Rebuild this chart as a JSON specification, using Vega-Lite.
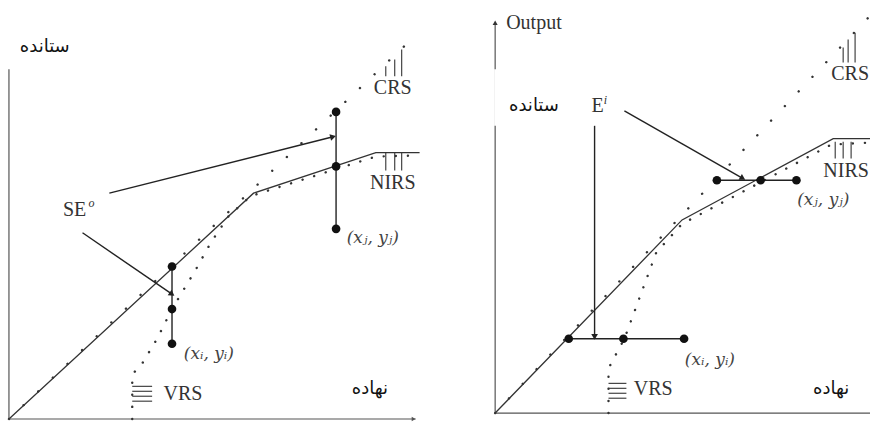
{
  "$schema": "https://vega.github.io/schema/vega-lite/v6.json",
  "width": 875,
  "height": 424,
  "autosize": {"type": "fit", "contains": "padding"},
  "padding": 0,
  "background": "white",
  "config": {"view": {"stroke": null}},
  "datasets": {
    "curves": [
      {"panel": "L", "frontier": "NIRS", "seq": 1, "x": 9, "y": 1},
      {"panel": "L", "frontier": "NIRS", "seq": 2, "x": 255, "y": 229},
      {"panel": "L", "frontier": "NIRS", "seq": 3, "x": 378, "y": 270},
      {"panel": "L", "frontier": "NIRS", "seq": 4, "x": 422, "y": 270},
      {"panel": "L", "frontier": "CRS", "seq": 1, "x": 9, "y": 1},
      {"panel": "L", "frontier": "CRS", "seq": 2, "x": 420, "y": 390},
      {"panel": "L", "frontier": "VRS", "seq": 1, "x": 133, "y": 1},
      {"panel": "L", "frontier": "VRS", "seq": 2, "x": 133, "y": 46},
      {"panel": "L", "frontier": "VRS", "seq": 3, "x": 143, "y": 57},
      {"panel": "L", "frontier": "VRS", "seq": 4, "x": 158, "y": 82},
      {"panel": "L", "frontier": "VRS", "seq": 5, "x": 173, "y": 112},
      {"panel": "L", "frontier": "VRS", "seq": 6, "x": 197, "y": 152},
      {"panel": "L", "frontier": "VRS", "seq": 7, "x": 212, "y": 179},
      {"panel": "L", "frontier": "VRS", "seq": 8, "x": 230, "y": 206},
      {"panel": "L", "frontier": "VRS", "seq": 9, "x": 252, "y": 226},
      {"panel": "L", "frontier": "VRS", "seq": 10, "x": 378, "y": 266},
      {"panel": "L", "frontier": "VRS", "seq": 11, "x": 422, "y": 267},
      {"panel": "R", "frontier": "NIRS", "seq": 1, "x": 498, "y": 7},
      {"panel": "R", "frontier": "NIRS", "seq": 2, "x": 686, "y": 202},
      {"panel": "R", "frontier": "NIRS", "seq": 3, "x": 838, "y": 284},
      {"panel": "R", "frontier": "NIRS", "seq": 4, "x": 875, "y": 284},
      {"panel": "R", "frontier": "CRS", "seq": 1, "x": 498, "y": 7},
      {"panel": "R", "frontier": "CRS", "seq": 2, "x": 875, "y": 408},
      {"panel": "R", "frontier": "VRS", "seq": 1, "x": 612, "y": 7},
      {"panel": "R", "frontier": "VRS", "seq": 2, "x": 612, "y": 52},
      {"panel": "R", "frontier": "VRS", "seq": 3, "x": 622, "y": 71},
      {"panel": "R", "frontier": "VRS", "seq": 4, "x": 628, "y": 82},
      {"panel": "R", "frontier": "VRS", "seq": 5, "x": 660, "y": 169},
      {"panel": "R", "frontier": "VRS", "seq": 6, "x": 686, "y": 198},
      {"panel": "R", "frontier": "VRS", "seq": 7, "x": 765, "y": 240},
      {"panel": "R", "frontier": "VRS", "seq": 8, "x": 836, "y": 278},
      {"panel": "R", "frontier": "VRS", "seq": 9, "x": 875, "y": 280}
    ],
    "segs": [
      {"kind": "axis", "x": 9, "y": 1, "x2": 9, "y2": 354},
      {"kind": "axis", "x": 9, "y": 1, "x2": 418, "y2": 1},
      {"kind": "axis", "x": 498, "y": 7, "x2": 498, "y2": 399},
      {"kind": "axis", "x": 498, "y": 7, "x2": 875, "y2": 7},
      {"kind": "link", "x": 338, "y": 193, "x2": 338, "y2": 311},
      {"kind": "link", "x": 173, "y": 77, "x2": 173, "y2": 155},
      {"kind": "link", "x": 572, "y": 82, "x2": 688, "y2": 82},
      {"kind": "link", "x": 721, "y": 242, "x2": 801, "y2": 242},
      {"kind": "arrow", "x": 110, "y": 229, "x2": 335, "y2": 286},
      {"kind": "arrow", "x": 83, "y": 189, "x2": 173, "y2": 127},
      {"kind": "arrow", "x": 598, "y": 297, "x2": 598, "y2": 84},
      {"kind": "arrow", "x": 628, "y": 312, "x2": 747, "y2": 244},
      {"kind": "glyph", "x": 388, "y": 347, "x2": 388, "y2": 357},
      {"kind": "glyph", "x": 397, "y": 347, "x2": 397, "y2": 364},
      {"kind": "glyph", "x": 404, "y": 347, "x2": 404, "y2": 374},
      {"kind": "glyph", "x": 388, "y": 252, "x2": 388, "y2": 270},
      {"kind": "glyph", "x": 397, "y": 252, "x2": 397, "y2": 270},
      {"kind": "glyph", "x": 404, "y": 252, "x2": 404, "y2": 270},
      {"kind": "glyph", "x": 133, "y": 34, "x2": 153, "y2": 34},
      {"kind": "glyph", "x": 133, "y": 29, "x2": 153, "y2": 29},
      {"kind": "glyph", "x": 133, "y": 24, "x2": 153, "y2": 24},
      {"kind": "glyph", "x": 133, "y": 19, "x2": 153, "y2": 19},
      {"kind": "glyph", "x": 612, "y": 37, "x2": 630, "y2": 37},
      {"kind": "glyph", "x": 612, "y": 32, "x2": 630, "y2": 32},
      {"kind": "glyph", "x": 612, "y": 27, "x2": 630, "y2": 27},
      {"kind": "glyph", "x": 612, "y": 22, "x2": 630, "y2": 22},
      {"kind": "glyph", "x": 848, "y": 361, "x2": 848, "y2": 376},
      {"kind": "glyph", "x": 853, "y": 361, "x2": 853, "y2": 384},
      {"kind": "glyph", "x": 860, "y": 361, "x2": 860, "y2": 391},
      {"kind": "glyph", "x": 840, "y": 264, "x2": 840, "y2": 281},
      {"kind": "glyph", "x": 848, "y": 264, "x2": 848, "y2": 281},
      {"kind": "glyph", "x": 856, "y": 264, "x2": 856, "y2": 281}
    ],
    "heads": [
      {"id": "A1", "x": 335, "y": 286},
      {"id": "A2", "x": 173, "y": 127},
      {"id": "A3", "x": 598, "y": 84},
      {"id": "A4", "x": 747, "y": 244},
      {"id": "OUT", "x": 498, "y": 401},
      {"id": "XL", "x": 416, "y": 1}
    ],
    "units": [
      {"unit": "i", "panel": "L", "x": 173, "y": 155},
      {"unit": "i", "panel": "L", "x": 173, "y": 112},
      {"unit": "i", "panel": "L", "x": 173, "y": 77},
      {"unit": "j", "panel": "L", "x": 338, "y": 311},
      {"unit": "j", "panel": "L", "x": 338, "y": 256},
      {"unit": "j", "panel": "L", "x": 338, "y": 193},
      {"unit": "i", "panel": "R", "x": 572, "y": 82},
      {"unit": "i", "panel": "R", "x": 627, "y": 82},
      {"unit": "i", "panel": "R", "x": 688, "y": 82},
      {"unit": "j", "panel": "R", "x": 721, "y": 242},
      {"unit": "j", "panel": "R", "x": 765, "y": 242},
      {"unit": "j", "panel": "R", "x": 801, "y": 242}
    ],
    "labels": [
      {"role": "fa", "text": "ستانده", "x": 45, "y": 377},
      {"role": "fa", "text": "نهاده", "x": 372, "y": 31},
      {"role": "fa", "text": "ستانده", "x": 537, "y": 317},
      {"role": "fa", "text": "نهاده", "x": 836, "y": 31},
      {"role": "roman", "text": "CRS", "x": 395, "y": 335},
      {"role": "roman", "text": "NIRS", "x": 395, "y": 239},
      {"role": "roman", "text": "VRS", "x": 184, "y": 26},
      {"role": "roman", "text": "SE", "x": 75, "y": 212},
      {"role": "roman", "text": "Output", "x": 537, "y": 401},
      {"role": "roman", "text": "CRS", "x": 855, "y": 349},
      {"role": "roman", "text": "NIRS", "x": 851, "y": 251},
      {"role": "roman", "text": "VRS", "x": 657, "y": 31},
      {"role": "roman", "text": "E", "x": 601, "y": 317},
      {"role": "sup", "text": "o", "x": 92, "y": 219},
      {"role": "sup", "text": "i", "x": 609, "y": 323},
      {"role": "math", "text": "(xⱼ, yⱼ)", "x": 375, "y": 184},
      {"role": "math", "text": "(xᵢ, yᵢ)", "x": 210, "y": 67},
      {"role": "math", "text": "(xᵢ, yᵢ)", "x": 714, "y": 61},
      {"role": "math", "text": "(xⱼ, yⱼ)", "x": 828, "y": 222}
    ]
  },
  "encoding": {
    "x": {"field": "x", "type": "quantitative", "scale": {"domain": [0, 875], "nice": false, "zero": false}, "axis": null},
    "y": {"field": "y", "type": "quantitative", "scale": {"domain": [0, 424], "nice": false, "zero": false}, "axis": null}
  },
  "layer": [
    {
      "data": {"name": "segs"},
      "transform": [{"filter": "datum.kind === 'axis'"}],
      "mark": {"type": "rule", "color": "#555", "strokeWidth": 1.2},
      "encoding": {"x2": {"field": "x2"}, "y2": {"field": "y2"}}
    },
    {
      "data": {"name": "curves"},
      "transform": [{"filter": "datum.frontier === 'CRS'"}],
      "mark": {"type": "line", "color": "#333", "strokeWidth": 2.4, "strokeCap": "round", "strokeDash": [0.1, 20]},
      "encoding": {"detail": {"field": "panel"}, "order": {"field": "seq", "type": "quantitative"}}
    },
    {
      "data": {"name": "curves"},
      "transform": [{"filter": "datum.frontier === 'VRS'"}],
      "mark": {"type": "line", "color": "#333", "strokeWidth": 2.4, "strokeCap": "round", "strokeDash": [0.1, 12]},
      "encoding": {"detail": {"field": "panel"}, "order": {"field": "seq", "type": "quantitative"}}
    },
    {
      "data": {"name": "curves"},
      "transform": [{"filter": "datum.frontier === 'NIRS'"}],
      "mark": {"type": "line", "color": "#333", "strokeWidth": 1.3},
      "encoding": {"detail": {"field": "panel"}, "order": {"field": "seq", "type": "quantitative"}}
    },
    {
      "data": {"name": "segs"},
      "transform": [{"filter": "datum.kind === 'link' || datum.kind === 'arrow'"}],
      "mark": {"type": "rule", "color": "#222", "strokeWidth": 1.4},
      "encoding": {"x2": {"field": "x2"}, "y2": {"field": "y2"}}
    },
    {
      "data": {"name": "segs"},
      "transform": [{"filter": "datum.kind === 'glyph'"}],
      "mark": {"type": "rule", "color": "#333", "strokeWidth": 1.1},
      "encoding": {"x2": {"field": "x2"}, "y2": {"field": "y2"}}
    },
    {
      "data": {"name": "heads"},
      "transform": [{"filter": "datum.id === 'A1'"}],
      "mark": {"type": "point", "shape": "triangle-right", "filled": true, "color": "#222", "size": 45, "angle": -14, "opacity": 1}
    },
    {
      "data": {"name": "heads"},
      "transform": [{"filter": "datum.id === 'A2'"}],
      "mark": {"type": "point", "shape": "triangle-right", "filled": true, "color": "#222", "size": 45, "angle": 35, "opacity": 1}
    },
    {
      "data": {"name": "heads"},
      "transform": [{"filter": "datum.id === 'A3'"}],
      "mark": {"type": "point", "shape": "triangle-right", "filled": true, "color": "#222", "size": 45, "angle": 90, "opacity": 1}
    },
    {
      "data": {"name": "heads"},
      "transform": [{"filter": "datum.id === 'A4'"}],
      "mark": {"type": "point", "shape": "triangle-right", "filled": true, "color": "#222", "size": 45, "angle": 30, "opacity": 1}
    },
    {
      "data": {"name": "heads"},
      "transform": [{"filter": "datum.id === 'OUT'"}],
      "mark": {"type": "point", "shape": "triangle-up", "filled": true, "color": "#333", "size": 25, "opacity": 1}
    },
    {
      "data": {"name": "heads"},
      "transform": [{"filter": "datum.id === 'XL'"}],
      "mark": {"type": "point", "shape": "triangle-right", "filled": true, "color": "#555", "size": 20, "opacity": 1}
    },
    {
      "data": {"name": "units"},
      "mark": {"type": "point", "shape": "circle", "filled": true, "color": "#111", "size": 75, "opacity": 1}
    },
    {
      "data": {"values": [{"x": 497, "y": 354, "x2": 591, "y2": 297}]},
      "mark": {"type": "rect", "color": "white"},
      "encoding": {"x2": {"field": "x2"}, "y2": {"field": "y2"}}
    },
    {
      "data": {"name": "labels"},
      "transform": [{"filter": "datum.role === 'fa'"}],
      "mark": {"type": "text", "font": "DejaVu Sans", "fontSize": 18, "color": "#111", "baseline": "middle", "align": "center"},
      "encoding": {"text": {"field": "text"}}
    },
    {
      "data": {"name": "labels"},
      "transform": [{"filter": "datum.role === 'roman'"}],
      "mark": {"type": "text", "font": "Liberation Serif", "fontSize": 20, "color": "#333", "baseline": "middle", "align": "center", "clip": true},
      "encoding": {"text": {"field": "text"}}
    },
    {
      "data": {"name": "labels"},
      "transform": [{"filter": "datum.role === 'sup'"}],
      "mark": {"type": "text", "font": "Liberation Serif", "fontStyle": "italic", "fontSize": 12, "color": "#333", "baseline": "middle", "align": "center"},
      "encoding": {"text": {"field": "text"}}
    },
    {
      "data": {"name": "labels"},
      "transform": [{"filter": "datum.role === 'math'"}],
      "mark": {"type": "text", "font": "DejaVu Serif", "fontStyle": "italic", "fontSize": 17, "color": "#444", "baseline": "middle", "align": "center", "clip": true},
      "encoding": {"text": {"field": "text"}}
    }
  ]
}
